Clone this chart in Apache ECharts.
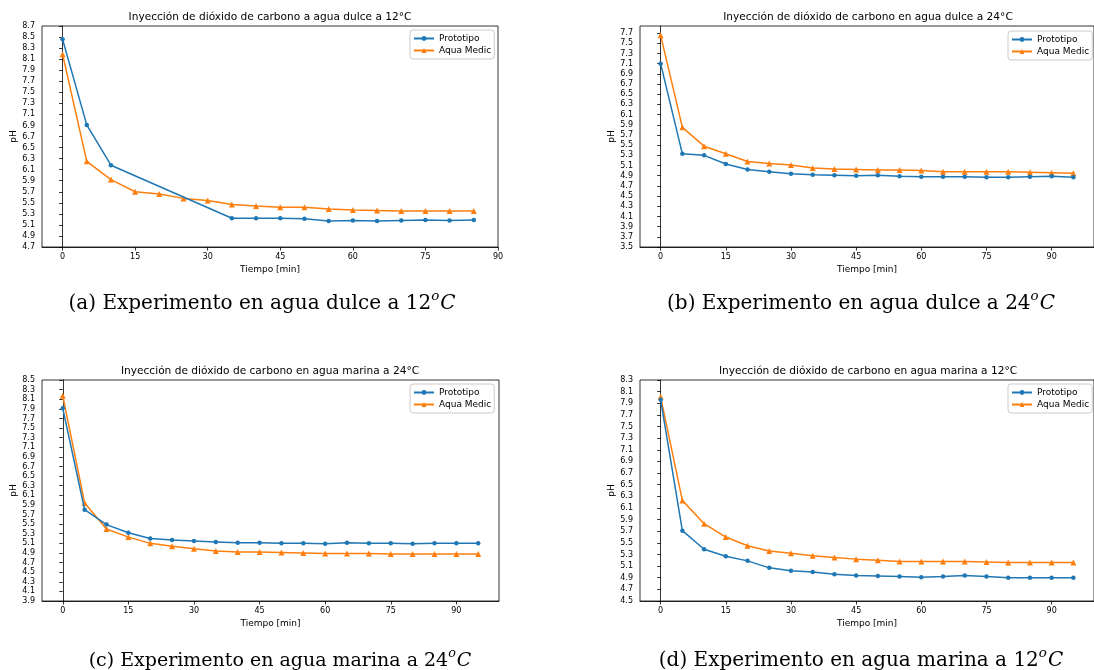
<!DOCTYPE html>
<html>
<head>
<meta charset="utf-8">
<script src="https://cdn.jsdelivr.net/npm/echarts@6/dist/echarts.min.js"></script>
<style>
  html, body { margin: 0; padding: 0; background: #fff; }
  #chart { width: 1094px; height: 670px; }
</style>
</head>
<body>
<div id="chart"></div>
<script>
// ---- Data: pH over time for the four CO2 injection experiments ----
const seriesNames = ['Prototipo', 'Aqua Medic'];

// (a) fresh water, 12 °C
const timeProtoA = [0, 5, 10, 35, 40, 45, 50, 55, 60, 65, 70, 75, 80, 85];
const phProtoA   = [8.46, 6.91, 6.18, 5.22, 5.22, 5.22, 5.21, 5.17, 5.18, 5.17, 5.18, 5.19, 5.18, 5.19];
const timeAquaA  = [0, 5, 10, 15, 20, 25, 30, 35, 40, 45, 50, 55, 60, 65, 70, 75, 80, 85];
const phAquaA    = [8.19, 6.25, 5.92, 5.70, 5.66, 5.58, 5.54, 5.47, 5.44, 5.42, 5.42, 5.39, 5.37, 5.36, 5.35, 5.35, 5.35, 5.35];

// (b) fresh water, 24 °C
const timeB      = [0, 5, 10, 15, 20, 25, 30, 35, 40, 45, 50, 55, 60, 65, 70, 75, 80, 85, 90, 95];
const phProtoB   = [7.10, 5.33, 5.30, 5.13, 5.02, 4.98, 4.94, 4.92, 4.91, 4.90, 4.91, 4.89, 4.88, 4.88, 4.88, 4.87, 4.87, 4.88, 4.89, 4.87];
const phAquaB    = [7.66, 5.85, 5.48, 5.33, 5.18, 5.14, 5.11, 5.05, 5.03, 5.02, 5.01, 5.01, 5.00, 4.98, 4.98, 4.98, 4.98, 4.97, 4.96, 4.95];

// (c) sea water, 24 °C
const timeC      = [0, 5, 10, 15, 20, 25, 30, 35, 40, 45, 50, 55, 60, 65, 70, 75, 80, 85, 90, 95];
const phProtoC   = [7.91, 5.80, 5.49, 5.32, 5.20, 5.17, 5.15, 5.13, 5.11, 5.11, 5.10, 5.10, 5.09, 5.11, 5.10, 5.10, 5.09, 5.10, 5.10, 5.10];
const phAquaC    = [8.17, 5.94, 5.40, 5.23, 5.10, 5.04, 4.99, 4.94, 4.92, 4.92, 4.91, 4.90, 4.89, 4.89, 4.89, 4.88, 4.88, 4.88, 4.88, 4.88];

// (d) sea water, 12 °C
const timeD      = [0, 5, 10, 15, 20, 25, 30, 35, 40, 45, 50, 55, 60, 65, 70, 75, 80, 85, 90, 95];
const phProtoD   = [7.96, 5.71, 5.39, 5.27, 5.19, 5.07, 5.02, 5.00, 4.96, 4.94, 4.93, 4.92, 4.91, 4.92, 4.94, 4.92, 4.90, 4.90, 4.90, 4.90];
const phAquaD    = [8.01, 6.23, 5.83, 5.60, 5.45, 5.36, 5.32, 5.28, 5.25, 5.22, 5.20, 5.18, 5.18, 5.18, 5.18, 5.17, 5.16, 5.16, 5.16, 5.16];

// Tick labels
const timeTicks = [0, 15, 30, 45, 60, 75, 90];
const phTicksA = [4.7, 4.9, 5.1, 5.3, 5.5, 5.7, 5.9, 6.1, 6.3, 6.5, 6.7, 6.9, 7.1, 7.3, 7.5, 7.7, 7.9, 8.1, 8.3, 8.5, 8.7];
const phTicksB = [3.5, 3.7, 3.9, 4.1, 4.3, 4.5, 4.7, 4.9, 5.1, 5.3, 5.5, 5.7, 5.9, 6.1, 6.3, 6.5, 6.7, 6.9, 7.1, 7.3, 7.5, 7.7];
const phTicksC = [3.9, 4.1, 4.3, 4.5, 4.7, 4.9, 5.1, 5.3, 5.5, 5.7, 5.9, 6.1, 6.3, 6.5, 6.7, 6.9, 7.1, 7.3, 7.5, 7.7, 7.9, 8.1, 8.3, 8.5];
const phTicksD = [4.5, 4.7, 4.9, 5.1, 5.3, 5.5, 5.7, 5.9, 6.1, 6.3, 6.5, 6.7, 6.9, 7.1, 7.3, 7.5, 7.7, 7.9, 8.1, 8.3];

// Text
const plotTitles = [
  'Inyección de dióxido de carbono a agua dulce a 12°C',
  'Inyección de dióxido de carbono en agua dulce a 24°C',
  'Inyección de dióxido de carbono en agua marina a 24°C',
  'Inyección de dióxido de carbono en agua marina a 12°C'
];
const captionLabels = ['(a) Experimento en agua dulce a ', '(b) Experimento en agua dulce a ',
                       '(c) Experimento en agua marina a ', '(d) Experimento en agua marina a '];
const captionTemps = ['12', '24', '24', '12'];

// ---- Layout & styling ----
const BLUE = '#1f77b4', ORANGE = '#ff7f0e';
const SANS = 'DejaVu Sans';
const SERIF = 'DejaVu Serif';

const panels = [
  { grid: { left: 42, top: 26, width: 456, height: 221 }, x: [-4.25, 90], y: [4.7, 8.7], yt: phTicksA,
    title: [270, 17], caption: [262, 302], capSize: 20, legend: [410, 30] },
  { grid: { left: 640, top: 26, width: 457, height: 221 }, x: [-4.75, 99.75], y: [3.5, 7.84], yt: phTicksB,
    title: [868, 17], caption: [861, 302], capSize: 20, legend: [1008, 31] },
  { grid: { left: 42, top: 380, width: 457, height: 221 }, x: [-4.75, 99.75], y: [3.9, 8.5], yt: phTicksC,
    title: [270, 371], caption: [280, 659], capSize: 19, legend: [410, 384] },
  { grid: { left: 640, top: 380, width: 457, height: 221 }, x: [-4.75, 99.75], y: [4.5, 8.3], yt: phTicksD,
    title: [868, 371], caption: [861, 659], capSize: 20, legend: [1008, 384] }
];

const seriesData = [
  [timeProtoA.map((t, i) => [t, phProtoA[i]]), timeAquaA.map((t, i) => [t, phAquaA[i]])],
  [timeB.map((t, i) => [t, phProtoB[i]]), timeB.map((t, i) => [t, phAquaB[i]])],
  [timeC.map((t, i) => [t, phProtoC[i]]), timeC.map((t, i) => [t, phAquaC[i]])],
  [timeD.map((t, i) => [t, phProtoD[i]]), timeD.map((t, i) => [t, phAquaD[i]])]
];

const axisLine = { show: true, lineStyle: { color: '#000', width: 0.8 } };
const axisTick = { show: true, length: 3.5, lineStyle: { color: '#000', width: 0.8 } };

const option = {
  animation: false,
  backgroundColor: '#fff',
  grid: panels.map(p => Object.assign({ show: true, borderColor: '#000', borderWidth: 0.8 }, p.grid)),
  xAxis: panels.map((p, i) => ({
    type: 'value', gridIndex: i, min: p.x[0], max: p.x[1],
    name: 'Tiempo [min]', nameLocation: 'middle', nameGap: 18,
    nameTextStyle: { fontFamily: SANS, fontSize: 9, color: '#000' },
    axisLine, axisTick: Object.assign({ customValues: timeTicks }, axisTick),
    axisLabel: { customValues: timeTicks, fontFamily: SANS, fontSize: 8, color: '#000', margin: 6 },
    splitLine: { show: false }
  })),
  yAxis: panels.map((p, i) => ({
    type: 'value', gridIndex: i, min: p.y[0], max: p.y[1],
    name: 'pH', nameLocation: 'middle', nameRotate: 90, nameGap: 23,
    nameTextStyle: { fontFamily: SANS, fontSize: 9, color: '#000' },
    axisLine, axisTick: Object.assign({ customValues: p.yt }, axisTick),
    axisLabel: { customValues: p.yt, formatter: v => v.toFixed(1), fontFamily: SANS, fontSize: 8, color: '#000', margin: 7 },
    splitLine: { show: false }
  })),
  legend: panels.map(p => ({
    data: seriesNames, orient: 'vertical', left: p.legend[0], top: p.legend[1],
    itemWidth: 20, itemHeight: 6, itemGap: 3, padding: [4, 3, 4, 3],
    borderColor: '#ccc', borderWidth: 1, borderRadius: 3, backgroundColor: 'rgba(255,255,255,0.8)',
    textStyle: { fontFamily: SANS, fontSize: 9, color: '#000' },
    selectedMode: false
  })),
  series: [],
  graphic: []
};

panels.forEach((p, i) => {
  option.series.push({
    name: seriesNames[0], type: 'line', xAxisIndex: i, yAxisIndex: i,
    data: seriesData[i][0], symbol: 'circle', symbolSize: 4.5,
    itemStyle: { color: BLUE }, lineStyle: { color: BLUE, width: 1.5 }, z: 3
  });
  option.series.push({
    name: seriesNames[1], type: 'line', xAxisIndex: i, yAxisIndex: i,
    data: seriesData[i][1], symbol: 'triangle', symbolSize: 6,
    itemStyle: { color: ORANGE }, lineStyle: { color: ORANGE, width: 1.5 }, z: 2
  });
  option.graphic.push({
    type: 'text', x: p.title[0], y: p.title[1],
    style: { text: plotTitles[i], fontFamily: SANS, fontSize: 10.6, fill: '#000', align: 'center', verticalAlign: 'middle' }
  });
  const cs = p.capSize;
  option.graphic.push({
    type: 'text', x: p.caption[0], y: p.caption[1],
    style: {
      text: '{n|' + captionLabels[i] + captionTemps[i] + '}{s|o}{c|C}',
      align: 'center', verticalAlign: 'middle',
      rich: {
        n: { fontFamily: SERIF, fontSize: cs, fill: '#000', lineHeight: 24, verticalAlign: 'bottom' },
        s: { fontFamily: SERIF, fontSize: cs * 0.67, fontStyle: 'italic', fill: '#000', lineHeight: 24, verticalAlign: 'top', padding: [0, 1, 0, 0] },
        c: { fontFamily: SERIF, fontSize: cs, fontStyle: 'italic', fill: '#000', lineHeight: 24, verticalAlign: 'bottom' }
      }
    }
  });
});

const chart = echarts.init(document.getElementById('chart'), null, { renderer: 'canvas' });
chart.setOption(option);
</script>
</body>
</html>
